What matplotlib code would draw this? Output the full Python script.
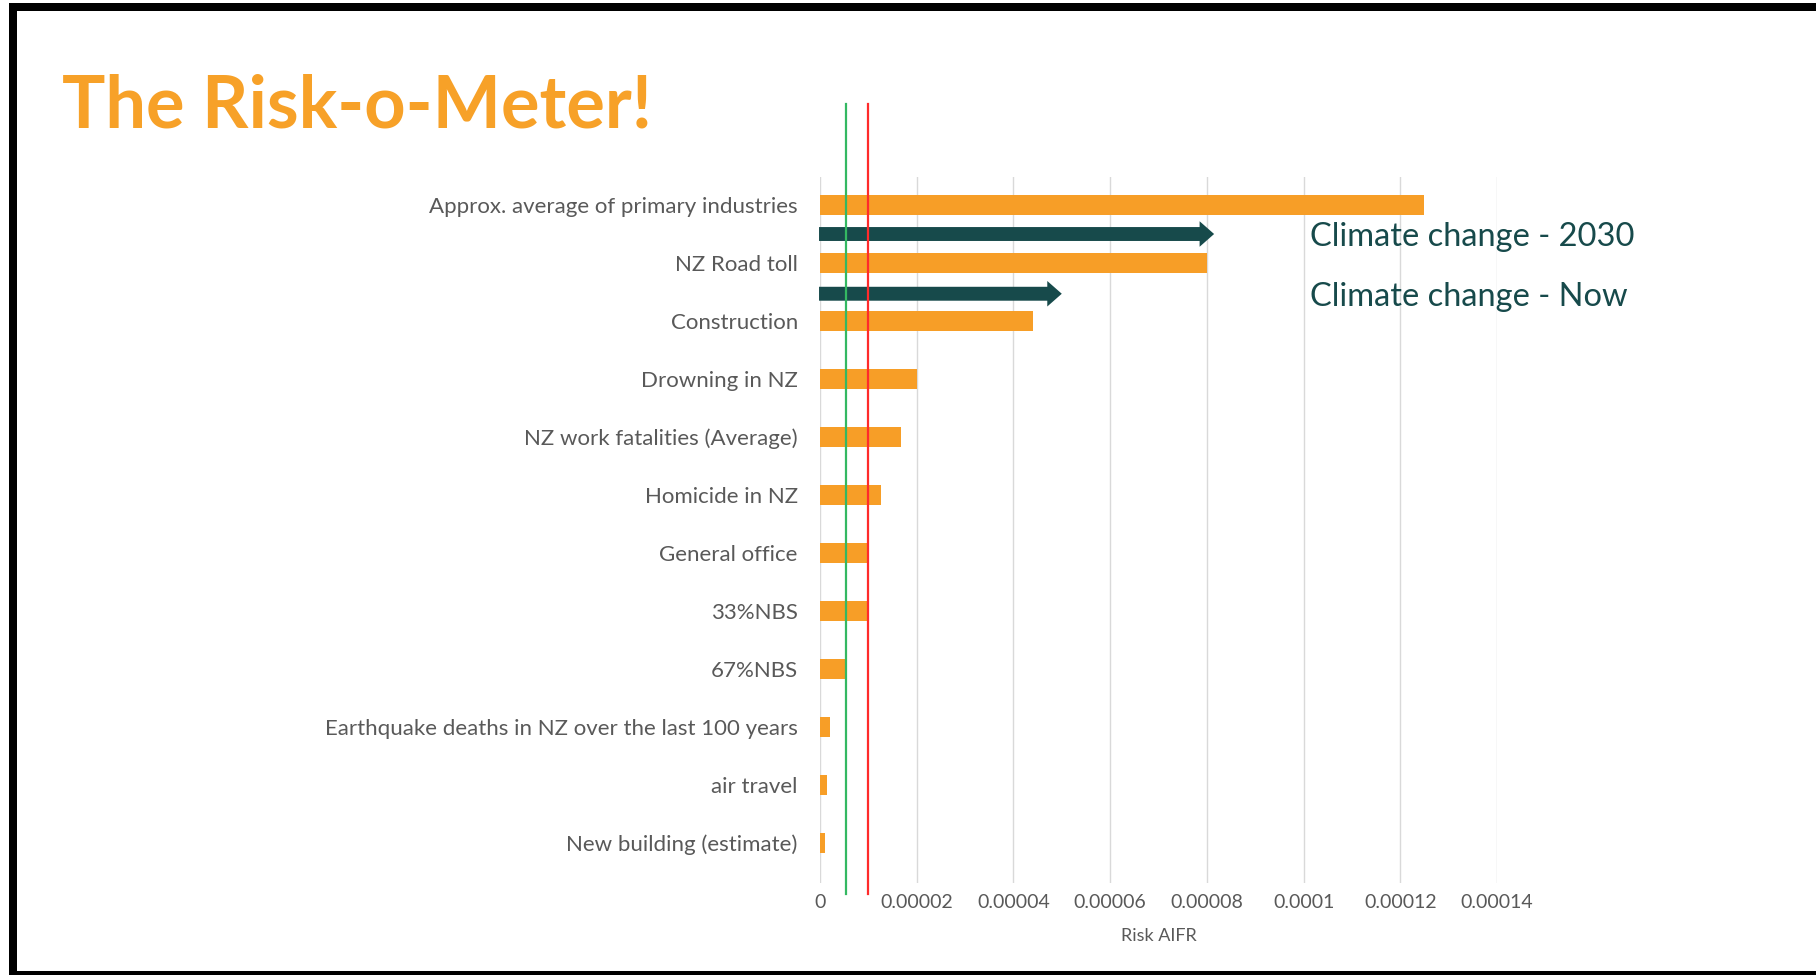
import matplotlib
matplotlib.use("Agg")
import matplotlib.pyplot as plt
from matplotlib.patches import Polygon, Rectangle
from matplotlib.ticker import FixedLocator

# ---- data -------------------------------------------------------------
categories = [
    "Approx. average of primary industries",
    "NZ Road toll",
    "Construction",
    "Drowning in NZ",
    "NZ work fatalities (Average)",
    "Homicide in NZ",
    "General office",
    "33%NBS",
    "67%NBS",
    "Earthquake deaths in NZ over the last 100 years",
    "air travel",
    "New building (estimate)",
]
risk_aifr = [1.25e-4, 8.0e-5, 4.4e-5, 2.0e-5, 1.68e-5, 1.27e-5,
             1.0e-5, 1.0e-5, 5.2e-6, 2.0e-6, 1.5e-6, 1.0e-6]

climate_labels = ["Climate change - 2030", "Climate change - Now"]
climate_values = [8.15e-5, 5.0e-5]
climate_rows = [0.5, 1.53]   # arrows sit between the top category bars

tolerable_line = 1.0e-5   # red
target_line = 5.3e-6      # green

x_ticks = [0, 0.00002, 0.00004, 0.00006, 0.00008, 0.0001, 0.00012, 0.00014]
x_tick_labels = ["0", "0.00002", "0.00004", "0.00006", "0.00008",
                 "0.0001", "0.00012", "0.00014"]

# ---- style ------------------------------------------------------------
ORANGE = "#F79E27"
TEAL = "#174A4B"
GREY_TXT = "#595959"
GRID = "#D9D9D9"
FONT = ["Lato", "DejaVu Sans"]
plt.rcParams["font.family"] = FONT

W, H = 1816, 975
fig = plt.figure(figsize=(W / 100, H / 100), dpi=100)
fig.patch.set_facecolor("white")

ax_left, ax_right, ax_top, ax_bottom = 820, 1497, 177, 883
ax = fig.add_axes([ax_left / W, 1 - ax_bottom / H,
                   (ax_right - ax_left) / W, (ax_bottom - ax_top) / H])

y = list(range(len(categories)))
ax.barh(y, risk_aifr, height=0.345, color=ORANGE, zorder=2)

ax.set_xlim(0, 0.00014)
ax.set_ylim(len(categories) - 1 + 0.69, -0.483)

ax.xaxis.set_major_locator(FixedLocator(x_ticks))
ax.set_xticklabels(x_tick_labels)
ax.set_yticks(y)
ax.set_yticklabels(categories)
ax.tick_params(axis="both", length=0)
ax.tick_params(axis="y", labelsize=16, labelcolor=GREY_TXT, pad=16)
ax.tick_params(axis="x", labelsize=14, labelcolor=GREY_TXT, pad=8)
for s in ax.spines.values():
    s.set_visible(False)
ax.grid(axis="x", color=GRID, linewidth=1.0, zorder=0)
ax.set_xlabel("Risk AIFR", fontsize=13, color=GREY_TXT, labelpad=12)

# threshold lines, running past the plot area
ymin = -(894 - ax_bottom) / (ax_bottom - ax_top)
ymax = (ax_bottom - 104) / (ax_bottom - ax_top)
ax.axvline(target_line, ymin=ymin, ymax=ymax, color="#34B862", lw=1.6,
           clip_on=False, zorder=4)
ax.axvline(tolerable_line, ymin=ymin, ymax=ymax, color="#FF2B2B", lw=1.6,
           clip_on=False, zorder=4)

# climate change arrows between the top bars
body_half = 0.12
head_half = 0.22
head_len = 3.0e-6
for lab, val, yc in zip(climate_labels, climate_values, climate_rows):
    x0 = -0.2e-6
    xb = val - head_len
    pts = [(x0, yc - body_half), (xb, yc - body_half), (xb, yc - head_half),
           (val, yc), (xb, yc + head_half), (xb, yc + body_half),
           (x0, yc + body_half)]
    ax.add_patch(Polygon(pts, closed=True, facecolor=TEAL, edgecolor="none",
                         zorder=3, clip_on=False))
    ax.text(0.0001013, yc + 0.05, lab, fontsize=23.5, color=TEAL,
            va="center", ha="left", zorder=5)

# title
fig.text(62 / W, 1 - 107 / H, "The Risk-o-Meter!", fontsize=52,
         fontweight="bold", color="#F7A128", va="center", ha="left")

# black frame (left, top, bottom)
for (x, yy, w, h) in [(9, 3, 8, 972), (9, 3, W - 9, 8), (9, 971, W - 9, 4)]:
    fig.add_artist(Rectangle((x / W, 1 - (yy + h) / H), w / W, h / H,
                             transform=fig.transFigure, facecolor="black",
                             edgecolor="none"))

fig.savefig("out.png", dpi=100)
